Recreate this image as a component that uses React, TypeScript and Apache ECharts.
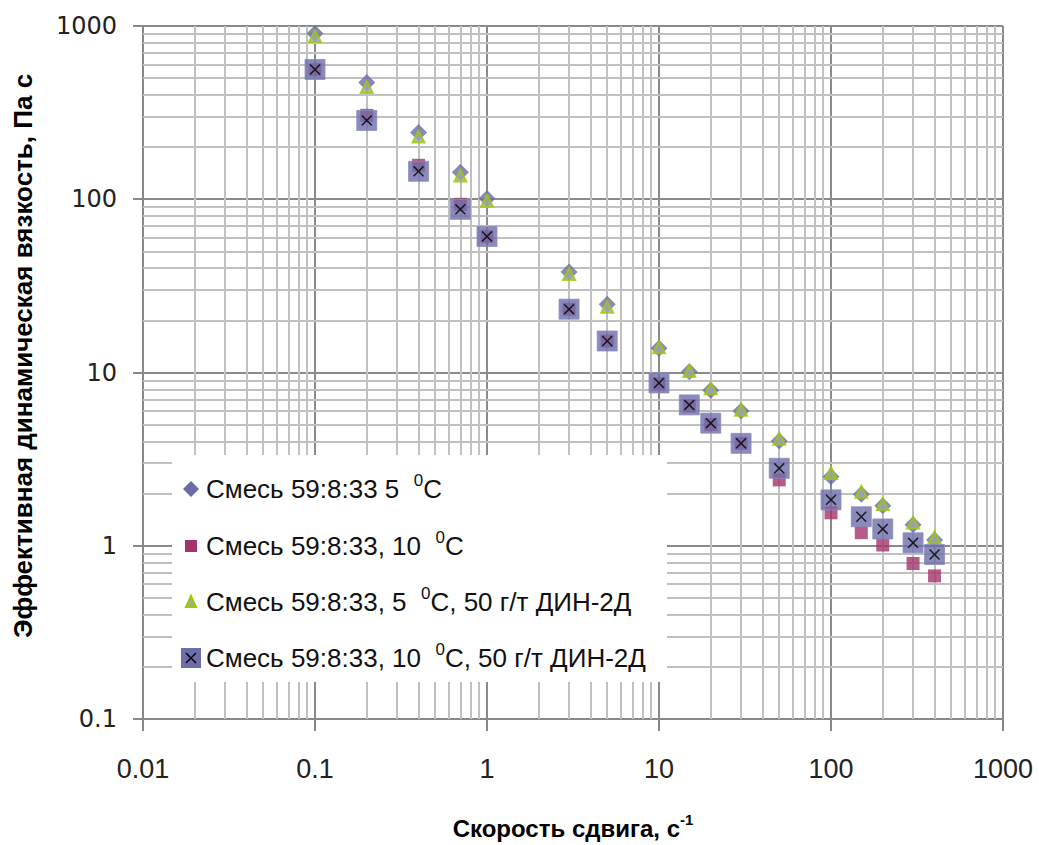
import React, { useEffect, useRef } from "react";
import * as echarts from "echarts";

const shearRates = [0.1, 0.2, 0.4, 0.7, 1, 3, 5, 10, 15, 20, 30, 50, 100, 150, 200, 300, 400];
const mix5C = [905, 472, 243, 143, 101, 38, 24.8, 13.8, 10.1, 7.9, 6.0, 4.03, 2.5, 1.98, 1.7, 1.32, 1.08];
const mix10C = [560, 305, 157, 93.5, 61, 23.2, 15.2, 8.6, 6.4, 5.0, 3.9, 2.4, 1.55, 1.19, 1.01, 0.79, 0.67];
const mix5CDin = [875, 445, 230, 137, 98, 37, 24, 14.0, 10.2, 8.1, 6.1, 4.15, 2.63, 2.05, 1.74, 1.36, 1.12];
const mix10CDin = [561, 285, 145, 87.5, 61, 23.2, 15.2, 8.7, 6.5, 5.1, 3.9, 2.8, 1.84, 1.47, 1.25, 1.04, 0.89];

const xTicks = [0.01, 0.1, 1, 10, 100, 1000];
const yTicks = [0.1, 1, 10, 100, 1000];
const legendNames = [
  "Смесь 59:8:33 5  {sup|0}C",
  "Смесь 59:8:33, 10  {sup|0}C",
  "Смесь 59:8:33, 5  {sup|0}C, 50 г/т ДИН-2Д",
  "Смесь 59:8:33, 10  {sup|0}C, 50 г/т ДИН-2Д",
];
const xTitle = "Скорость сдвига, с{sup|-1}";
const yTitle = "Эффективная динамическая вязкость, Па с";

const SANS = "'Liberation Sans', Arial, sans-serif";

function minorValues(lo: number, hi: number) {
  const out: number[] = [];
  for (let d = lo; d < hi; d *= 10) {
    for (let k = 2; k <= 9; k++) out.push(Number((d * k).toPrecision(6)));
  }
  return out;
}

const fmt = (v: number) => String(Number(v.toPrecision(6)));

const X_PATH = "path://M0,1 L1,0 L10,9 L9,10 Z M9,0 L10,1 L1,10 L0,9 Z";

export default function App() {
  const ref = useRef<HTMLDivElement>(null);
  useEffect(() => {
    if (!ref.current) return;
    const chart = echarts.init(ref.current, null, { renderer: "svg" });
    const pts = (ys: number[]) => shearRates.map((x, i) => [x, ys[i]]);
    const minorLine = { color: "#c0c0c0", width: 2, type: "solid" as const };
    const minorMarks = [
      ...minorValues(0.01, 1000).map((v) => ({ xAxis: v })),
      ...minorValues(0.1, 1000).map((v) => ({ yAxis: v })),
    ];
    const legendIconX = 191;
    const rowsY = [489, 546, 602, 658];
    const legendText = (i: number) => ({
      type: "text",
      x: 206,
      y: rowsY[i],
      z: 101,
      style: {
        text: legendNames[i],
        fill: "#111",
        font: `26px ${SANS}`,
        verticalAlign: "middle",
        rich: {
          sup: { fontSize: 17, fontFamily: SANS, fill: "#111", padding: [0, 0, 17, 0] },
        },
      },
    });
    chart.setOption({
      animation: false,
      backgroundColor: "#fff",
      grid: { left: 143, top: 26, right: 36, bottom: 125, containLabel: false },
      xAxis: {
        type: "log",
        logBase: 10,
        min: xTicks[0],
        max: xTicks[xTicks.length - 1],
        axisLine: { show: true, lineStyle: { color: "#888", width: 2 } },
        axisTick: { show: true, length: 12, lineStyle: { color: "#888", width: 2 } },
        axisLabel: {
          fontFamily: SANS,
          fontSize: 27,
          color: "#222",
          margin: 36,
          formatter: (v: number) => fmt(v),
        },
        splitLine: { show: true, lineStyle: { color: "#8a8a8a", width: 2 } },
        name: xTitle,
        nameLocation: "middle",
        nameGap: 93,
        nameTextStyle: {
          fontFamily: SANS,
          fontWeight: "bold",
          fontSize: 24,
          color: "#000",
          rich: { sup: { fontFamily: SANS, fontWeight: "bold", fontSize: 15, padding: [0, 0, 17, 0] } },
        },
      },
      yAxis: {
        type: "log",
        logBase: 10,
        min: yTicks[0],
        max: yTicks[yTicks.length - 1],
        axisLine: { show: true, lineStyle: { color: "#888", width: 2 } },
        axisTick: { show: true, length: 10, lineStyle: { color: "#888", width: 2 } },
        axisLabel: {
          fontFamily: "'DejaVu Sans', Verdana, sans-serif",
          fontSize: 24,
          color: "#222",
          margin: 26,
          formatter: (v: number) => fmt(v),
        },
        splitLine: { show: true, lineStyle: { color: "#8a8a8a", width: 2 } },
      },
      series: [
        {
          type: "scatter",
          name: "s1",
          data: pts(mix5C),
          symbol: "diamond",
          symbolSize: 17,
          itemStyle: { color: "#6b6ba8" },
          z: 3,
          markLine: {
            silent: true,
            symbol: ["none", "none"],
            label: { show: false },
            lineStyle: minorLine,
            data: minorMarks,
            z: 1,
          },
        },
        {
          type: "scatter",
          name: "s2",
          data: pts(mix10C),
          symbol: "rect",
          symbolSize: 13,
          itemStyle: { color: "#a3336b" },
          z: 4,
        },
        {
          type: "scatter",
          name: "s3",
          data: pts(mix5CDin),
          symbol: "triangle",
          symbolSize: 12,
          itemStyle: { color: "#a6a6a6", borderColor: "#99cc00", borderWidth: 2 },
          z: 5,
        },
        {
          type: "scatter",
          name: "s4",
          data: pts(mix10CDin),
          symbol: "rect",
          symbolSize: 20,
          itemStyle: { color: "#6e6eaa", borderColor: "#8c8cc0", borderWidth: 1 },
          z: 6,
        },
        {
          type: "scatter",
          name: "s4x",
          data: pts(mix10CDin),
          symbol: X_PATH,
          symbolSize: 11,
          itemStyle: { color: "#000" },
          z: 7,
        },
      ],
      graphic: [
        {
          type: "text",
          x: 23,
          y: 356,
          rotation: Math.PI / 2,
          style: {
            text: yTitle,
            font: `bold 26px ${SANS}`,
            fill: "#000",
            align: "center",
            verticalAlign: "middle",
          },
        },
        { type: "rect", z: 100, shape: { x: 172, y: 455, width: 495, height: 227 }, style: { fill: "#fff" } },
        {
          type: "polygon",
          z: 101,
          shape: { points: [[legendIconX, rowsY[0] - 8], [legendIconX + 8, rowsY[0]], [legendIconX, rowsY[0] + 8], [legendIconX - 8, rowsY[0]]] },
          style: { fill: "#6b6ba8" },
        },
        { type: "rect", z: 101, shape: { x: legendIconX - 6, y: rowsY[1] - 6, width: 12, height: 12 }, style: { fill: "#a3336b" } },
        {
          type: "polygon",
          z: 101,
          shape: { points: [[legendIconX, rowsY[2] - 6], [legendIconX + 5, rowsY[2] + 5], [legendIconX - 5, rowsY[2] + 5]] },
          style: { fill: "#a6a6a6", stroke: "#99cc00", lineWidth: 2 },
        },
        { type: "rect", z: 101, shape: { x: legendIconX - 10, y: rowsY[3] - 10, width: 20, height: 20 }, style: { fill: "#6e6eaa" } },
        { type: "line", z: 102, shape: { x1: legendIconX - 5, y1: rowsY[3] - 5, x2: legendIconX + 5, y2: rowsY[3] + 5 }, style: { stroke: "#000", lineWidth: 1.5 } },
        { type: "line", z: 102, shape: { x1: legendIconX + 5, y1: rowsY[3] - 5, x2: legendIconX - 5, y2: rowsY[3] + 5 }, style: { stroke: "#000", lineWidth: 1.5 } },
        legendText(0),
        legendText(1),
        legendText(2),
        legendText(3),
      ],
    });
    return () => chart.dispose();
  }, []);
  return <div ref={ref} style={{ position: "fixed", left: 0, top: 0, width: 1039, height: 845 }} />;
}
